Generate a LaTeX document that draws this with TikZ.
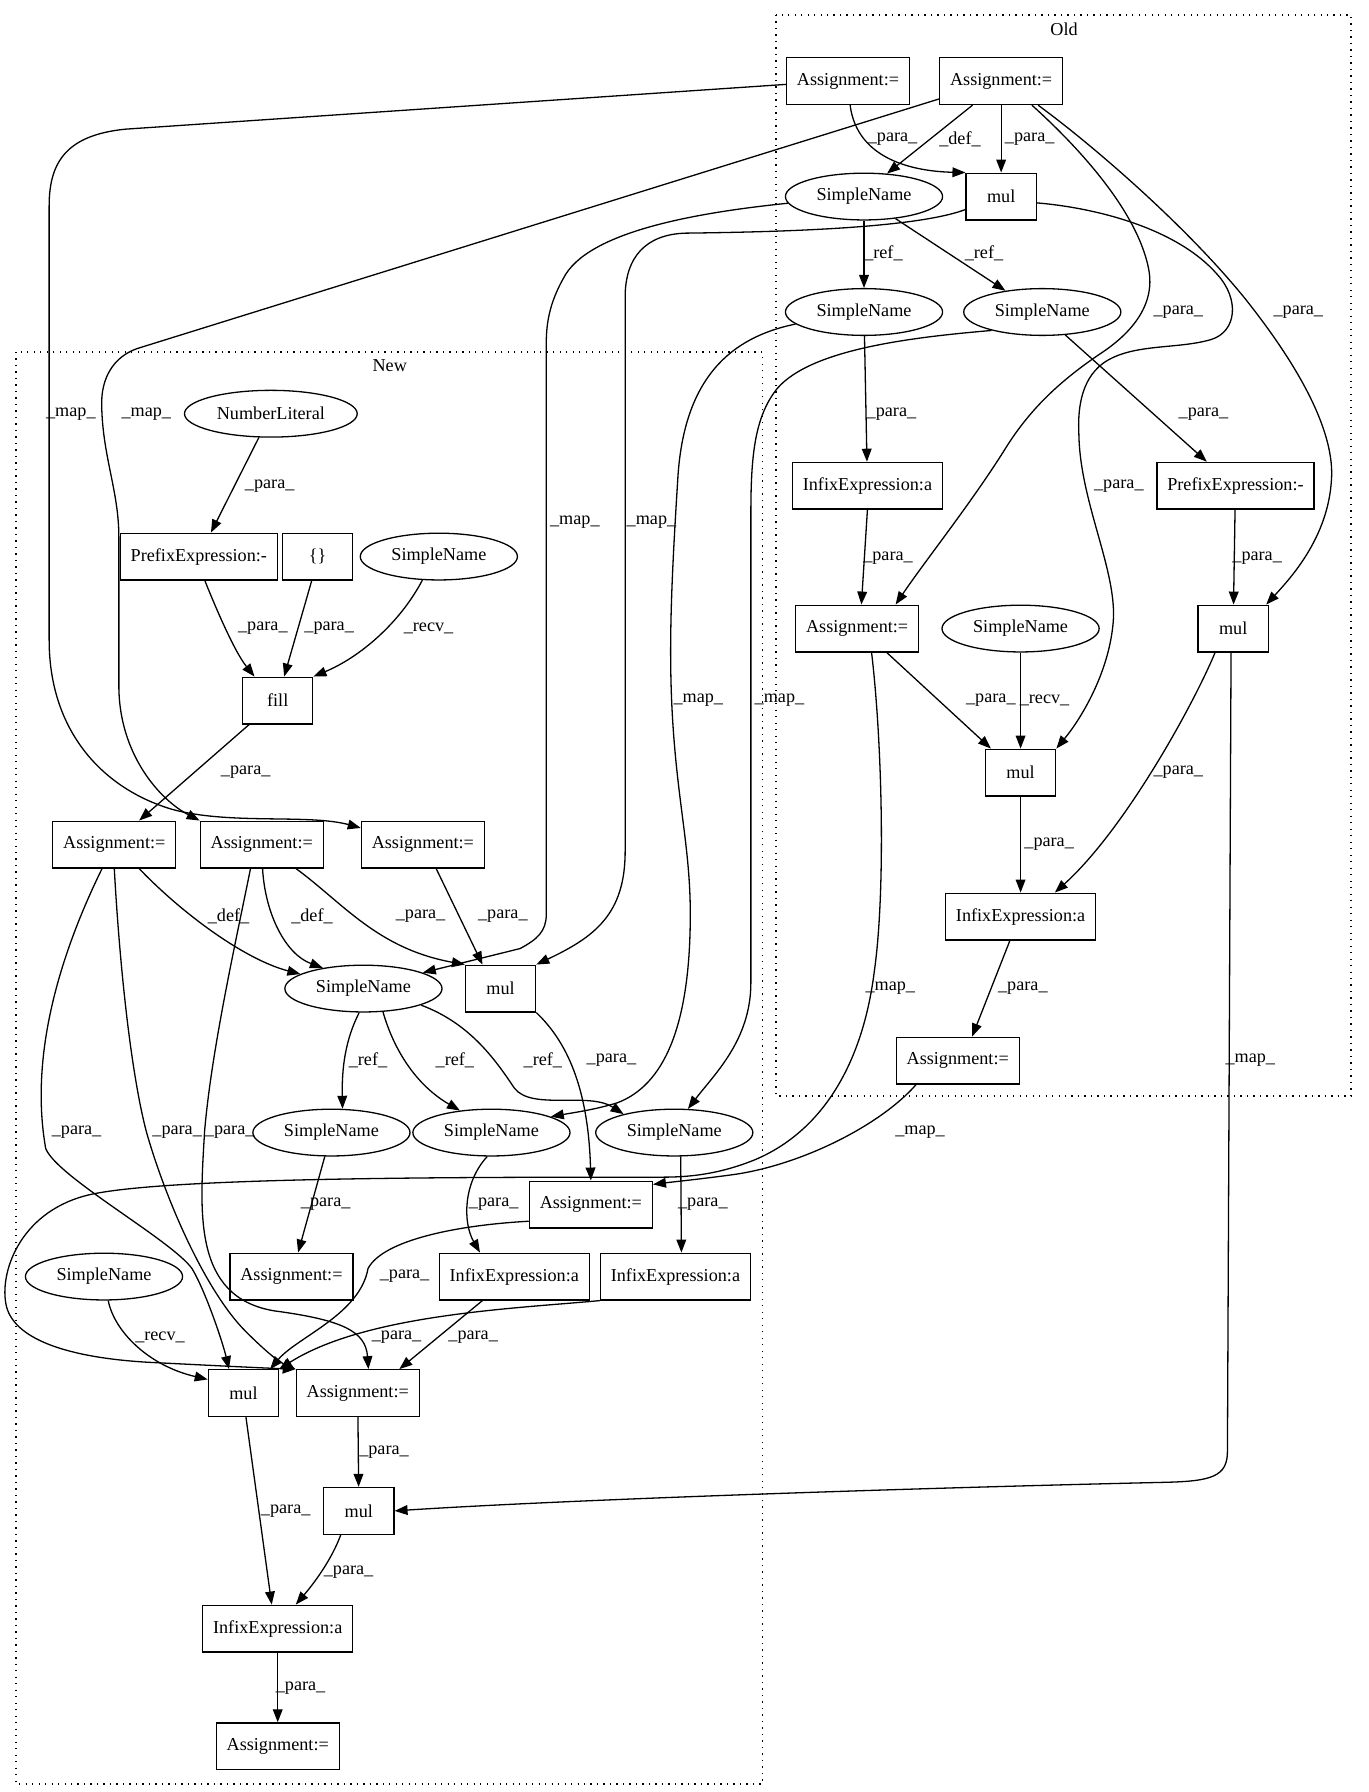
\documentclass[tikz,border=0pt]{standalone}
\usepackage{fontspec}
\setmainfont{Liberation Serif}
\usetikzlibrary{shapes.geometric, arrows.meta}
\newcommand{\gvfont}{\fontsize{14pt}{16pt}\selectfont}
\tikzset{
    box/.style={
        draw,
        rectangle,
        minimum width=54pt,
        minimum height=36pt,
        inner xsep=8pt,
        inner ysep=2pt,
        font=\gvfont,
        line width=1pt
    },
    oval/.style={
        draw,
        ellipse,
        minimum width=121pt,
        minimum height=36pt,
        inner sep=1pt,
        font=\gvfont,
        line width=1pt
    },
    arrow/.style={
        -{Triangle[length=10pt, width=7.5pt]},
        line width=1pt
    },
    lbl/.style={
        font=\gvfont,
        inner sep=0pt
    },
    cluster/.style={
        draw,
        line width=1pt,
        dash pattern=on 1pt off 4pt
    }
}

\begin{document}
\begin{tikzpicture}[x=0.88pt, y=-0.88pt]
        \useasboundingbox (0,0) rectangle (1197,1568);

        % Clusters
        \draw[cluster] (679,13) rectangle (1182,959);
        \node[lbl] (oldLbl) at (931,26) {Old};
        \draw[cluster] (14,308) rectangle (667,1561);
        \node[lbl] (newLbl) at (341,320) {New};

        % Old nodes
        \node[box] (oAsgA) at (742,71) {Assignment:=};
        \node[box] (oAsgB) at (876,71) {Assignment:=};
        \node[oval] (oSnA) at (756,172) {SimpleName};
        \node[box] (oMulA) at (876,172) {mul};
        \node[oval] (oSnB) at (756,273) {SimpleName};
        \node[oval] (oSnC) at (912,273) {SimpleName};
        \node[box] (oInfA) at (759,425) {InfixExpression:a};
        \node[box] (oPreA) at (1081,425) {PrefixExpression:-};
        \node[box] (oAsgC) at (750,550) {Assignment:=};
        \node[oval] (oSnD) at (893,550) {SimpleName};
        \node[box] (oMulB) at (1079,550) {mul};
        \node[box] (oMulC) at (893,676) {mul};
        \node[box] (oInfB) at (893,802) {InfixExpression:a};
        \node[box] (oAsgD) at (838,928) {Assignment:=};

        % New nodes
        \node[oval, minimum width=133pt] (nNum) at (237,362) {NumberLiteral};
        \node[box] (nPre) at (174,487) {PrefixExpression:-};
        \node[box] (nBrace) at (278,487) {\{\}};
        \node[oval] (nSnA) at (384,487) {SimpleName};
        \node[box] (nFill) at (243,613) {fill};
        \node[box] (nAsgA) at (100,739) {Assignment:=};
        \node[box] (nAsgB) at (229,739) {Assignment:=};
        \node[box] (nAsgC) at (370,739) {Assignment:=};
        \node[oval] (nSnB) at (318,865) {SimpleName};
        \node[box] (nMulA) at (438,865) {mul};
        \node[oval] (nSnC) at (290,991) {SimpleName};
        \node[oval] (nSnD) at (430,991) {SimpleName};
        \node[oval] (nSnE) at (590,991) {SimpleName};
        \node[box] (nAsgD) at (517,1054) {Assignment:=};
        \node[oval] (nSnF) at (91,1117) {SimpleName};
        \node[box] (nAsgE) at (255,1117) {Assignment:=};
        \node[box] (nInfA) at (450,1117) {InfixExpression:a};
        \node[box] (nInfB) at (591,1117) {InfixExpression:a};
        \node[box] (nMulB) at (213,1219) {mul};
        \node[box] (nAsgF) at (313,1219) {Assignment:=};
        \node[box] (nMulC) at (314,1322) {mul};
        \node[box] (nInfC) at (243,1425) {InfixExpression:a};
        \node[box] (nAsgG) at (243,1528) {Assignment:=};

        % Old edges
        \draw[arrow] (oAsgA.-85) .. controls (750,140) and (800,150) .. (oMulA.north west)
            node[lbl] at (781,122) {\_para\_};
        \draw[arrow] (oAsgB.-140) -- (oSnA.45) node[lbl] at (840,122) {\_def\_};
        \draw[arrow] (oAsgB) -- (oMulA) node[lbl] at (901,122) {\_para\_};
        \draw[arrow] (oAsgB.-38) .. controls (945,130) and (995,185) .. (1005,235)
            .. controls (1012,270) and (985,295) .. (962,310)
            .. controls (925,335) and (900,360) .. (880,392)
            .. controls (850,440) and (810,490) .. (oAsgC.32)
            node[lbl] at (1031,273) {\_para\_};
        \draw[arrow] (oAsgB.-33) .. controls (960,130) and (1040,200) .. (1090,262)
            .. controls (1140,325) and (1168,380) .. (1165,420)
            .. controls (1162,470) and (1130,505) .. (oMulB.36)
            node[lbl] at (1136,273) {\_para\_};
        \draw[arrow] (oSnA) -- (oSnB) node[lbl] at (773,222) {\_ref\_};
        \draw[arrow] (oSnA.-35) -- (oSnC.150) node[lbl] at (861,222) {\_ref\_};
        \draw[arrow] (oMulA.-10) .. controls (960,182) and (1030,200) .. (1065,240)
            .. controls (1085,262) and (1082,290) .. (1060,297)
            .. controls (1030,306) and (990,300) .. (965,318)
            .. controls (945,333) and (943,360) .. (944,380)
            .. controls (945,440) and (978,500) .. (974,545)
            .. controls (970,590) and (945,630) .. (oMulC.north east)
            node[lbl] at (979,425) {\_para\_};
        \draw[arrow] (oSnB) -- (oInfA) node[lbl] at (780,362) {\_para\_};
        \draw[arrow] (oSnC.-45) -- (oPreA.140) node[lbl] at (1053,362) {\_para\_};
        \draw[arrow] (oInfA.south) -- (oAsgC.80) node[lbl] at (777,488) {\_para\_};
        \draw[arrow] (oPreA) -- (oMulB) node[lbl] at (1100,488) {\_para\_};
        \draw[arrow] (oAsgC.-39) -- (oMulC.141) node[lbl] at (867,613) {\_para\_};
        \draw[arrow] (oSnD) -- (oMulC) node[lbl] at (914,613) {\_recv\_};
        \draw[arrow] (oMulB.-127) .. controls (1045,615) and (985,725) .. (oInfB.35)
            node[lbl] at (1031,676) {\_para\_};
        \draw[arrow] (oMulC) -- (oInfB) node[lbl] at (918,739) {\_para\_};
        \draw[arrow] (oInfB.-114) -- (oAsgD.59) node[lbl] at (895,865) {\_para\_};

        % Map edges, Old to New
        \draw[arrow] (oAsgA.183) -- (110,113) .. controls (60,118) and (43,140) .. (43,180)
            -- (43,560) .. controls (43,640) and (90,690) .. (150,708)
            .. controls (200,722) and (270,712) .. (nAsgC.165)
            node[lbl] at (62,362) {\_map\_};
        \draw[arrow] (oAsgB.196) -- (120,305) .. controls (100,312) and (88,330) .. (89,356)
            .. controls (90,400) and (104,430) .. (104,470)
            -- (104,600) .. controls (104,660) and (140,700) .. (nAsgB.north west)
            node[lbl] at (128,362) {\_map\_};
        \draw[arrow] (oSnA.185) .. controls (620,185) and (520,200) .. (495,240)
            .. controls (482,262) and (478,280) .. (478,300)
            -- (478,800) .. controls (478,815) and (470,822) .. (455,830) -- (nSnB.15)
            node[lbl] at (503,457) {\_map\_};
        \draw[arrow] (oMulA.200) .. controls (800,200) and (680,203) .. (600,204)
            .. controls (565,205) and (547,225) .. (547,260)
            -- (547,745) .. controls (547,800) and (520,820) .. (nMulA.north east)
            node[lbl] at (570,457) {\_map\_};
        \draw[arrow] (oSnB.190) .. controls (640,295) and (598,330) .. (593,420)
            .. controls (588,500) and (585,560) .. (588,620)
            .. controls (592,700) and (604,740) .. (604,800)
            .. controls (604,900) and (580,950) .. (540,965)
            .. controls (520,971) and (505,973) .. (nSnD.15)
            node[lbl] at (611,613) {\_map\_};
        \draw[arrow] (oSnC.200) .. controls (800,295) and (710,305) .. (680,340)
            .. controls (660,365) and (657,400) .. (657,450)
            -- (657,860) .. controls (657,910) and (625,940) .. (nSnE.60)
            node[lbl] at (682,613) {\_map\_};
        \draw[arrow] (oAsgC.-59) .. controls (772,650) and (775,780) .. (765,850)
            .. controls (755,930) and (720,990) .. (660,1015)
            .. controls (630,1027) and (605,1030) .. (580,1030)
            .. controls (400,1030) and (150,1030) .. (80,1045)
            .. controls (20,1058) and (0,1110) .. (5,1140)
            .. controls (10,1172) and (60,1188) .. (130,1192)
            .. controls (190,1195) and (230,1197) .. (nAsgF.north west)
            node[lbl] at (779,865) {\_map\_};
        \draw[arrow] (oMulB.-95) -- (1074,1270) .. controls (1074,1292) and (1060,1296) .. (1020,1297)
            .. controls (800,1302) and (500,1312) .. (nMulC.east)
            node[lbl] at (1094,928) {\_map\_};
        \draw[arrow] (oAsgD.-150) .. controls (770,985) and (700,1020) .. (640,1028)
            .. controls (610,1032) and (590,1034) .. (nAsgD.18)
            node[lbl] at (805,991) {\_map\_};

        % New edges
        \draw[arrow] (nNum) -- (nPre) node[lbl] at (236,425) {\_para\_};
        \draw[arrow] (nPre.-76) .. controls (188,530) and (205,570) .. (nFill.134)
            node[lbl] at (230,550) {\_para\_};
        \draw[arrow] (nBrace.-104) -- (nFill.75) node[lbl] at (288,550) {\_para\_};
        \draw[arrow] (nSnA.-125) .. controls (350,545) and (315,575) .. (nFill.north east)
            node[lbl] at (375,550) {\_recv\_};
        \draw[arrow] (nFill.-140) -- (nAsgA.44) node[lbl] at (215,676) {\_para\_};
        \draw[arrow] (nAsgA.-44) .. controls (160,800) and (215,840) .. (nSnB.167)
            node[lbl] at (200,802) {\_def\_};
        \draw[arrow] (nAsgB.-88) .. controls (232,800) and (250,835) .. (nSnB.153)
            node[lbl] at (273,802) {\_def\_};
        \draw[arrow] (nAsgB.-35) .. controls (300,790) and (330,830) .. (nMulA.north west)
            node[lbl] at (368,802) {\_para\_};
        \draw[arrow] (nAsgC.-61) -- (nMulA.127) node[lbl] at (440,802) {\_para\_};
        \draw[arrow] (nSnB.-100) .. controls (302,910) and (299,935) .. (nSnC.65)
            node[lbl] at (322,928) {\_ref\_};
        \draw[arrow] (nSnB.-50) .. controls (345,920) and (365,950) .. (nSnD.145)
            node[lbl] at (398,928) {\_ref\_};
        \draw[arrow] (nSnB.-16) .. controls (410,895) and (432,925) .. (450,952)
            .. controls (465,972) and (515,955) .. (nSnE.160)
            node[lbl] at (475,928) {\_ref\_};
        \draw[arrow] (nMulA.south east) .. controls (500,915) and (515,960) .. (nAsgD.north)
            node[lbl] at (535,928) {\_para\_};
        \draw[arrow] (nSnC) -- (nAsgE) node[lbl] at (285,1054) {\_para\_};
        \draw[arrow] (nSnD.-100) .. controls (405,1035) and (405,1070) .. (nInfA.145)
            node[lbl] at (432,1054) {\_para\_};
        \draw[arrow] (nSnE.-75) -- (nInfB.76) node[lbl] at (615,1054) {\_para\_};
        \draw[arrow] (nAsgA.-117) .. controls (55,830) and (25,920) .. (40,1005)
            .. controls (50,1030) and (150,1085) .. (168,1110)
            .. controls (180,1130) and (195,1175) .. (nMulB.121)
            node[lbl] at (67,991) {\_para\_};
        \draw[arrow] (nAsgA.south) .. controls (105,850) and (115,940) .. (128,990)
            .. controls (145,1050) and (180,1130) .. (215,1165)
            .. controls (235,1185) and (245,1192) .. (nAsgF.north west)
            node[lbl] at (155,991) {\_para\_};
        \draw[arrow] (nAsgB.-115) .. controls (205,830) and (185,920) .. (179,990)
            .. controls (175,1060) and (168,1135) .. (240,1147)
            .. controls (300,1155) and (320,1165) .. (nAsgF.66)
            node[lbl] at (201,991) {\_para\_};
        \draw[arrow] (nAsgD.-165) .. controls (400,1072) and (335,1085) .. (322,1110)
            .. controls (315,1150) and (260,1170) .. (nMulB.42)
            node[lbl] at (354,1117) {\_para\_};
        \draw[arrow] (nSnF.-80) .. controls (100,1165) and (130,1195) .. (nMulB.159)
            node[lbl] at (140,1170) {\_recv\_};
        \draw[arrow] (nInfB.south west) .. controls (450,1145) and (320,1150) .. (nMulB.north east)
            node[lbl] at (347,1170) {\_para\_};
        \draw[arrow] (nInfA.-143) -- (nAsgF.30) node[lbl] at (414,1170) {\_para\_};
        \draw[arrow] (nAsgF) -- (nMulC) node[lbl] at (336,1271) {\_para\_};
        \draw[arrow] (nMulB.-84) -- (nInfC.104) node[lbl] at (250,1322) {\_para\_};
        \draw[arrow] (nMulC.-127) .. controls (290,1365) and (275,1385) .. (nInfC.53)
            node[lbl] at (305,1376) {\_para\_};
        \draw[arrow] (nInfC) -- (nAsgG) node[lbl] at (263,1477) {\_para\_};
    \end{tikzpicture}
\end{document}
